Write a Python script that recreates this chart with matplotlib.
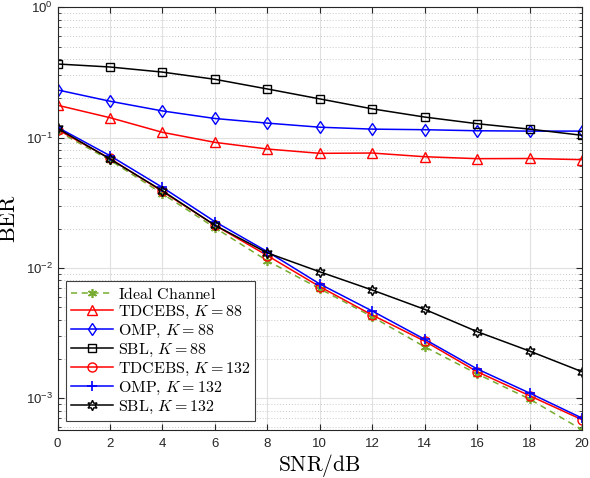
import matplotlib
matplotlib.use("Agg")
import matplotlib.pyplot as plt
from matplotlib.ticker import LogLocator, NullFormatter

plt.rcParams['font.family'] = ['Liberation Sans', 'DejaVu Sans']
plt.rcParams['mathtext.fontset'] = 'cm'

snr = [0, 2, 4, 6, 8, 10, 12, 14, 16, 18, 20]
ideal = [0.112, 0.067, 0.037, 0.0203, 0.0113, 0.0069, 0.0042, 0.00247, 0.00153, 0.00098, 0.00057]
tdcebs88 = [0.177, 0.142, 0.1096, 0.0918, 0.0816, 0.0756, 0.076, 0.0712, 0.0688, 0.069, 0.0676]
omp88 = [0.232, 0.19, 0.16, 0.14, 0.129, 0.12, 0.116, 0.1148, 0.1127, 0.112, 0.112]
sbl88 = [0.367, 0.348, 0.318, 0.28, 0.236, 0.198, 0.166, 0.1436, 0.1277, 0.116, 0.104]
tdcebs132 = [0.115, 0.069, 0.0385, 0.0212, 0.0124, 0.00715, 0.00433, 0.00273, 0.00159, 0.00104, 0.00068]
omp132 = [0.1198, 0.0725, 0.0414, 0.0226, 0.0133, 0.0075, 0.00465, 0.00282, 0.00167, 0.00109, 0.0007]
sbl132 = [0.1177, 0.0684, 0.039, 0.0212, 0.013, 0.0093, 0.00674, 0.00479, 0.00323, 0.00229, 0.00159]

green = '#77AC30'
fig = plt.figure(figsize=(5.9, 4.78), dpi=100)
ax = fig.add_axes([0.0975, 0.1004, 0.889, 0.8843])

lw = 1.1
ms = 6.5
ax.semilogy(snr, ideal, '--', color=green, marker=(6, 2, 0), ms=ms, mew=1.2, lw=lw,
            dashes=(4, 3), label=r'$\mathrm{Ideal\ Channel}$')
ax.semilogy(snr, tdcebs88, '-', color='r', marker='^', ms=ms, mfc='none', lw=lw,
            label=r'$\mathrm{TDCEBS},\,K=88$')
ax.semilogy(snr, omp88, '-', color='b', marker='d', ms=ms, mfc='none', lw=lw,
            label=r'$\mathrm{OMP},\,K=88$')
ax.semilogy(snr, sbl88, '-', color='k', marker='s', ms=ms - 0.5, mfc='none', lw=lw,
            label=r'$\mathrm{SBL},\,K=88$')
ax.semilogy(snr, tdcebs132, '-', color='r', marker='o', ms=ms, mfc='none', lw=lw,
            label=r'$\mathrm{TDCEBS},\,K=132$')
ax.semilogy(snr, omp132, '-', color='b', marker='+', ms=ms + 1, mew=1.2, lw=lw,
            label=r'$\mathrm{OMP},\,K=132$')
ax.semilogy(snr, sbl132, '-', color='k', marker=(6, 1, 0), ms=ms + 1, mfc='none', lw=lw,
            label=r'$\mathrm{SBL},\,K=132$')

ax.set_xlim(0, 20)
ax.set_ylim(5.67e-4, 1)
ax.set_xticks(snr)
ax.yaxis.set_major_locator(LogLocator(base=10, numticks=10))
ax.yaxis.set_minor_locator(LogLocator(base=10, subs=range(2, 10), numticks=20))
ax.yaxis.set_minor_formatter(NullFormatter())

ax.grid(True, which='major', color='#e0e0e0', lw=0.8, ls='-')
ax.grid(True, which='minor', axis='y', color='#c8c8c8', lw=0.7, ls=(0, (1, 2)))
ax.set_axisbelow(True)

ax.tick_params(which='both', direction='in', top=True, right=True,
               colors='#262626', labelsize=9.5)
ax.tick_params(axis='x', pad=6)
ax.tick_params(which='major', length=4)
ax.tick_params(which='minor', length=2.5)
for s in ax.spines.values():
    s.set_color('#262626')
    s.set_linewidth(0.8)

ax.set_xlabel(r'$\mathrm{SNR/dB}$', fontsize=15.5, labelpad=1)
ax.set_ylabel(r'$\mathrm{BER}$', fontsize=16, labelpad=4)

leg = ax.legend(loc='lower left', bbox_to_anchor=(0.017, 0.022), fontsize=11.5,
                fancybox=False, framealpha=1, edgecolor='#404040',
                handlelength=2.6, handletextpad=0.3, labelspacing=0.12,
                borderpad=0.3, borderaxespad=0)
leg.get_frame().set_linewidth(0.8)

fig.savefig('out.png', dpi=100)
